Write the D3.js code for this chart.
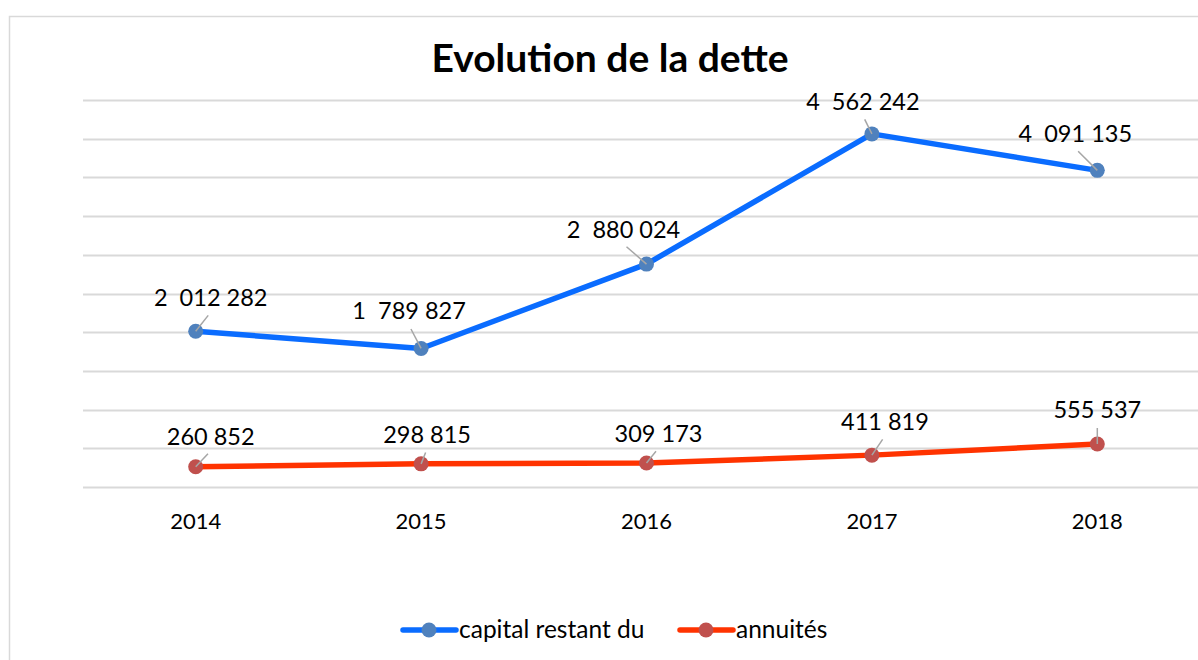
<!DOCTYPE html>
<html>
<head>
<meta charset="utf-8">
<script src="https://cdn.jsdelivr.net/npm/d3@7"></script>
<style>
body { margin: 0; background: #fff; }
svg { display: block; font-family: Lato, "Open Sans", sans-serif; }
text { white-space: pre; }
</style>
</head>
<body>
<div id="chart"></div>
<script>
var years = ['2014', '2015', '2016', '2017', '2018'];
var capital = [2012282, 1789827, 2880024, 4562242, 4091135];
var annuites = [260852, 298815, 309173, 411819, 555537];
var seriesNames = ['capital restant du', 'annuités'];
var yTicks = d3.range(0, 5000001, 500000);

// label placement relative to the point (dx, dy), as moved by hand in the original
var capitalOffsets = [[15, -25], [-12, -29], [-23, -26], [-9, -24], [-22, -28]];
var annuitesOffsets = [[15, -22], [6, -21], [12, -21], [13, -25], [0, -26]];

var width = 1198, height = 660;
var margin = {top: 100, right: -12, bottom: 173, left: 83},
    innerwidth = width - margin.left - margin.right,
    innerheight = height - margin.top - margin.bottom;

var x = d3.scalePoint().domain(years).range([0, innerwidth]).padding(0.5);
var y = d3.scaleLinear().domain([0, 5000000]).range([innerheight, 0]);

var root = d3.select('#chart').append('svg')
    .attr('width', width)
    .attr('height', height);

// chart frame
root.append('rect')
    .attr('x', 9.5).attr('y', 16.5)
    .attr('width', 1220).attr('height', 700)
    .attr('fill', 'white')
    .attr('stroke', '#d9d9d9')
    .attr('stroke-width', 1.5);

root.append('text')
    .attr('x', 610).attr('y', 72)
    .style('text-anchor', 'middle')
    .style('font-weight', 'bold')
    .style('font-size', '39px')
    .attr('fill', 'black')
    .text('Evolution de la dette');

var svg = root.append('g')
    .attr('transform', 'translate(' + margin.left + ',' + margin.top + ')');

// gridlines
svg.selectAll('.grid')
    .data(yTicks)
    .enter()
    .append('line')
    .attr('class', 'grid')
    .attr('x1', 0).attr('x2', innerwidth)
    .attr('y1', function(d) { return Math.round(y(d)) + 0.5; })
    .attr('y2', function(d) { return Math.round(y(d)) + 0.5; })
    .attr('stroke', '#d9d9d9')
    .attr('stroke-width', 2);

// x labels
svg.selectAll('.xlabel')
    .data(years)
    .enter()
    .append('text')
    .attr('class', 'xlabel')
    .attr('x', function(d) { return x(d); })
    .attr('y', innerheight + 42)
    .style('text-anchor', 'middle')
    .style('font-size', '22px')
    .attr('fill', 'black')
    .text(function(d) { return d; });

function fmt(v) {
    var s = d3.format(',')(v);
    if(v >= 1e6)
        s = s.replace(',', '  ');
    return s.replace(/,/g, ' ');
}

var line = d3.line()
    .x(function(d, i) { return x(years[i]); })
    .y(function(d) { return y(d); });

function drawSeries(values, offsets, lineColor, markerColor) {
    svg.append('path')
        .datum(values)
        .attr('d', line)
        .attr('fill', 'none')
        .attr('stroke', lineColor)
        .attr('stroke-width', 5.5)
        .attr('stroke-linejoin', 'round');

    svg.selectAll(null)
        .data(values)
        .enter()
        .append('circle')
        .attr('cx', function(d, i) { return x(years[i]); })
        .attr('cy', function(d) { return y(d); })
        .attr('r', 7.5)
        .attr('fill', markerColor);

    // leader lines
    svg.selectAll(null)
        .data(values)
        .enter()
        .append('line')
        .each(function(d, i) {
            var px = x(years[i]), py = y(d);
            var tx = px + offsets[i][0], ty = py + offsets[i][1] + 6;
            var dx = tx - px, dy = ty - py;
            var len = Math.sqrt(dx*dx + dy*dy);
            var k = Math.max(0, (len - 4) / len);
            d3.select(this)
                .attr('x1', px).attr('y1', py)
                .attr('x2', px + dx*k).attr('y2', py + dy*k);
        })
        .attr('stroke', '#a6a6a6')
        .attr('stroke-width', 1.5);

    svg.selectAll(null)
        .data(values)
        .enter()
        .append('text')
        .attr('x', function(d, i) { return x(years[i]) + offsets[i][0]; })
        .attr('y', function(d, i) { return y(d) + offsets[i][1]; })
        .style('text-anchor', 'middle')
        .style('font-size', '23.5px')
        .attr('fill', 'black')
        .text(fmt);
}

drawSeries(annuites, annuitesOffsets, '#ff3300', '#c0504d');
drawSeries(capital, capitalOffsets, '#0a6cff', '#4f81bd');

// legend
var legendItems = [
    {name: seriesNames[0], line: '#0a6cff', marker: '#4f81bd', x: 401},
    {name: seriesNames[1], line: '#ff3300', marker: '#c0504d', x: 678}
];
var lg = root.selectAll('.legend')
    .data(legendItems)
    .enter()
    .append('g')
    .attr('class', 'legend')
    .attr('transform', function(d) { return 'translate(' + d.x + ',630)'; });
lg.append('line')
    .attr('x1', 2).attr('x2', 55)
    .attr('stroke', function(d) { return d.line; })
    .attr('stroke-width', 5.5)
    .attr('stroke-linecap', 'round');
lg.append('circle')
    .attr('cx', 28).attr('r', 7.5)
    .attr('fill', function(d) { return d.marker; });
lg.append('text')
    .attr('x', 58).attr('y', 8)
    .style('font-size', '24.5px')
    .attr('fill', 'black')
    .text(function(d) { return d.name; });
</script>
</body>
</html>
